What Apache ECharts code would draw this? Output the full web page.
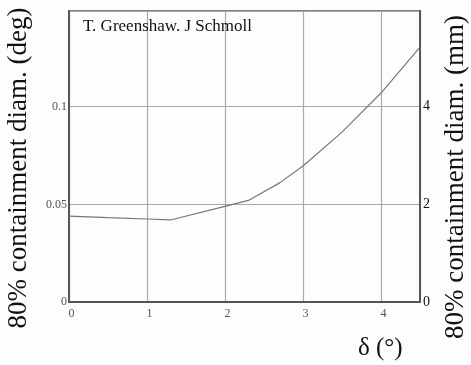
<!DOCTYPE html>
<html>
<head>
<meta charset="utf-8">
<script src="https://cdn.jsdelivr.net/npm/echarts@6/dist/echarts.min.js"></script>
<style>
html,body{margin:0;padding:0;background:#fdfdfd;}
#chart{width:471px;height:365px;}
</style>
</head>
<body>
<div id="chart"></div>
<script>
// offset angle delta (deg) vs 80% containment diameter (deg)
const delta = [0, 0.5, 1, 1.3, 2, 2.3, 2.7, 3, 3.5, 4, 4.5];
const diamDeg = [0.044, 0.0432, 0.0425, 0.042, 0.049, 0.052, 0.061, 0.0696, 0.087, 0.107, 0.1305];
const xTicks = [0, 1, 2, 3, 4];
const degToMm = 40;

const serif = '"Liberation Serif", "DejaVu Serif", serif';
const chart = echarts.init(document.getElementById('chart'));
const yMax = 0.149;
const nameStyle = {fontFamily: serif, fontSize: 27, fill: '#111'};

const option = {
  backgroundColor: '#fdfdfd',
  animation: false,
  grid: {
    left: 69, right: 51, top: 11, bottom: 63,
    containLabel: false, outerBoundsMode: 'none',
    show: true, borderColor: '#555', borderWidth: 1.5
  },
  title: {
    text: 'T. Greenshaw. J Schmoll',
    left: 78, top: 13,
    textStyle: {fontFamily: serif, fontSize: 17, fontWeight: 'normal', color: '#111'}
  },
  graphic: [
    {type: 'text', x: 19, y: 168, rotation: Math.PI / 2,
     style: Object.assign({text: '80% containment diam. (deg)', align: 'center', verticalAlign: 'middle'}, nameStyle)},
    {type: 'text', x: 456, y: 177, rotation: Math.PI / 2,
     style: Object.assign({text: '80% containment diam. (mm)', align: 'center', verticalAlign: 'middle'}, nameStyle)},
    {type: 'text', x: 358, y: 336,
     style: {text: 'δ (°)', fontFamily: serif, fontSize: 25, fill: '#111'}}
  ],
  xAxis: {
    type: 'value', min: 0, max: 4.5, interval: 1,
    axisLine: {lineStyle: {color: '#555', width: 2}},
    axisTick: {show: false},
    axisLabel: {
      fontFamily: serif, fontSize: 12, color: '#555', margin: 6, showMaxLabel: false,
      padding: [0, 0, 0, 5],
      formatter: v => xTicks.includes(v) ? String(v) : ''
    },
    splitLine: {show: true, lineStyle: {color: '#aaa', width: 1.2}}
  },
  yAxis: [
    {
      type: 'value', min: 0, max: yMax, interval: 0.05,
      axisLine: {show: true, lineStyle: {color: '#555', width: 2}},
      axisTick: {show: false},
      axisLabel: {fontFamily: serif, fontSize: 12, color: '#555', margin: 2, showMaxLabel: false,
                  padding: [4, 0, 0, 0]},
      splitLine: {show: true, lineStyle: {color: '#aaa', width: 1.2}}
    },
    {
      type: 'value', min: 0, max: yMax * degToMm, interval: 2,
      axisLine: {show: true, lineStyle: {color: '#555', width: 2}},
      axisTick: {show: false},
      axisLabel: {fontFamily: serif, fontSize: 14, color: '#111', margin: 3, showMaxLabel: false,
                  padding: [5, 0, 0, 0]},
      splitLine: {show: false}
    }
  ],
  series: [{
    type: 'line',
    data: delta.map((d, i) => [d, diamDeg[i]]),
    showSymbol: false,
    lineStyle: {color: '#777', width: 1.2}
  }]
};
chart.setOption(option);
</script>
</body>
</html>
